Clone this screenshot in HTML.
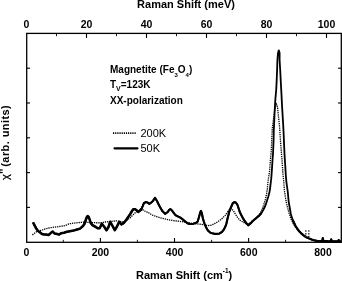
<!DOCTYPE html>
<html><head><meta charset="utf-8"><style>
html,body{margin:0;padding:0;background:#fff;}
svg{display:block;}
.b{font-family:"Liberation Sans",Arial,sans-serif;font-weight:bold;fill:#000;}
.r{font-family:"Liberation Sans",Arial,sans-serif;fill:#000;}
</style></head><body>
<svg width="342" height="281" viewBox="0 0 342 281">
<rect width="342" height="281" fill="#fff"/>
<!-- frame -->
<rect x="26.7" y="33.4" width="314.6" height="208.9" fill="none" stroke="#000" stroke-width="1.3"/>
<!-- top ticks (meV) -->
<g stroke="#000" stroke-width="1.1">
<line x1="56.5" y1="33.4" x2="56.5" y2="36.2" stroke-width="0.9"/><line x1="86.5" y1="33.4" x2="86.5" y2="38" stroke-width="1.1"/><line x1="116.5" y1="33.4" x2="116.5" y2="36.2" stroke-width="0.9"/><line x1="146.5" y1="33.4" x2="146.5" y2="38" stroke-width="1.1"/><line x1="176.5" y1="33.4" x2="176.5" y2="36.2" stroke-width="0.9"/><line x1="206.5" y1="33.4" x2="206.5" y2="38" stroke-width="1.1"/><line x1="236.5" y1="33.4" x2="236.5" y2="36.2" stroke-width="0.9"/><line x1="266.5" y1="33.4" x2="266.5" y2="38" stroke-width="1.1"/><line x1="296.5" y1="33.4" x2="296.5" y2="36.2" stroke-width="0.9"/><line x1="326.5" y1="33.4" x2="326.5" y2="38" stroke-width="1.1"/>
</g>
<!-- bottom ticks (cm-1) -->
<g stroke="#000" stroke-width="1.1">
<line x1="63.3" y1="242.3" x2="63.3" y2="239.8" stroke-width="0.9"/><line x1="100.4" y1="242.3" x2="100.4" y2="238" stroke-width="1.1"/><line x1="137.4" y1="242.3" x2="137.4" y2="239.8" stroke-width="0.9"/><line x1="174.5" y1="242.3" x2="174.5" y2="238" stroke-width="1.1"/><line x1="211.6" y1="242.3" x2="211.6" y2="239.8" stroke-width="0.9"/><line x1="248.6" y1="242.3" x2="248.6" y2="238" stroke-width="1.1"/><line x1="285.6" y1="242.3" x2="285.6" y2="239.8" stroke-width="0.9"/><line x1="322.7" y1="242.3" x2="322.7" y2="238" stroke-width="1.1"/>
</g>
<!-- left/right ticks -->
<g stroke="#000" stroke-width="1.1">
<line x1="26.7" y1="68.2" x2="30" y2="68.2"/><line x1="338" y1="68.2" x2="341.3" y2="68.2"/><line x1="26.7" y1="103.0" x2="30" y2="103.0"/><line x1="338" y1="103.0" x2="341.3" y2="103.0"/><line x1="26.7" y1="137.8" x2="30" y2="137.8"/><line x1="338" y1="137.8" x2="341.3" y2="137.8"/><line x1="26.7" y1="172.6" x2="30" y2="172.6"/><line x1="338" y1="172.6" x2="341.3" y2="172.6"/><line x1="26.7" y1="207.4" x2="30" y2="207.4"/><line x1="338" y1="207.4" x2="341.3" y2="207.4"/>
</g>
<!-- curves -->
<polyline points="32.4,234.9 36,232 40.2,230.6 44.5,229.2 48.8,228 54.5,227.1 60.2,226.4 65.1,225.6 69.1,223.8 76.2,222.8 83.4,222.2 90.5,222.5 97.6,222.8 101.9,222.7 105.1,222 112.2,221.3 116.4,220.8 120.7,221.6 123.9,221.9 127.6,219.7 129.8,218.1 132.4,215.5 135.1,212.8 137.8,211.5 140.5,210.6 142.7,209.7 144.5,211 146.7,211.9 149.4,213.2 152,215 157.1,216.8 162.4,218.4 167.8,219.6 173.1,220.6 178.5,221.2 184.2,222 189.9,223 195.6,223.8 201.3,224.3 205.6,224.9 207.4,225.6 211.4,225.2 216.2,222.8 221,219.6 225,215.6 229,210 231.2,208.6 233.5,210.8 235.6,214.5 237.5,217.4 240,220.3 242.5,221.8 246,223.6 248.5,224 252,221.5 256,218.5 260,213.5 262.2,209 263.7,205 265.2,200 266.4,195 267.2,190 268.2,180 269.5,172 270.4,160 271.3,150 272.2,130 272.7,125 273.8,117 274.8,110 275.6,106 276.3,104 277,105 277.6,108 278.5,117 279.4,125 279.9,132 280.4,140 281.2,150 282,160 282.5,167 283,175 283.8,182 284.3,190 285.2,196 286,201 287.4,207 289,213 291,219 293.5,224 296,228 299,231.5 302,234.5 305,237 308,238.5" fill="none" stroke="#000" stroke-width="1.3" stroke-dasharray="1.3 0.9"/>
<polyline points="33,222.4 35.1,226.3 36.4,228.8 38.1,231 39.8,232.2 42,234 44.1,234.4 46.2,234.6 48.5,235 50.7,233.1 52.8,231.6 54.5,233.5 57.1,234 59.2,234.6 61,233.3 64,232.7 66.9,231.8 69.9,231.2 73.4,230.6 78,229.2 80,228.6 81.4,227.4 83,226 84.4,224 85.3,221.5 86.1,219 87,216.7 87.8,216.1 88.7,217 89.5,219.1 90.8,223.2 92.5,225.1 95.1,226.6 97.7,228.3 99.7,228.2 101.8,223.8 104.2,226.8 106.5,230.3 108.5,227 110.1,221.8 112,225 114.8,230.2 117,226.5 119.2,221.8 121.4,224.4 123.8,222.9 126,220.3 128.1,217.1 130.3,213.9 132,211 133.3,209.2 135.1,209.2 136.9,210.6 138.2,211.9 140,210.6 141.3,209.2 142.7,206.1 144,203 145.8,202.1 147.6,202.6 149.4,203.9 151.1,202.6 152.7,201.3 155,197.8 157.1,201.3 159.8,206.7 162.4,211.1 165.1,213.8 167.8,212 169.2,209.8 170.4,209.1 171.6,210 172.9,211.8 175.6,215.3 178.3,216.6 180.4,217.6 183.1,219.7 185.7,221.9 187.9,223.5 190,224 192.7,224 195.3,223 196.5,222.6 197.7,221.5 199,217 200.2,212.5 200.9,210.9 201.8,213 202.8,218 203.8,221.5 204.6,223.8 206,227.2 207.9,230.5 210.5,232.8 214.9,233.9 219.3,233.6 221.9,232 223.4,230.2 224.6,228 225.5,226.2 226.3,224 227.5,218.8 229.2,212 230.8,207.7 232.8,203.2 234.4,202.1 236,202.7 237.5,205 238.8,209 240,212.6 242.5,217.4 244.3,220.5 246.2,223 248.3,225.3 250.5,223.5 252.5,221.2 256,218.3 259,215.8 261.5,213 263.5,209.5 265.2,206 266.3,203 267.2,200 268.2,197 269.5,192 270.5,185 271.3,178 271.9,170 272.5,160 273,154 273.6,140 273.8,130 274.3,120 274.6,112 275.3,100 276.2,90 276.7,80 277.1,70 277.4,60 278,53 278.8,50.3 279.6,53 279.6,60 280.2,70 280.7,80 281.5,95 282,105 282.6,115 283.2,125 283.7,135 284.1,145 284.5,154 285.2,165 285.8,175 286.4,182 287.8,192 288.7,202 289.8,208 290.8,214 292.7,220 295.5,226 298.6,230.6 301.3,233.4 303.9,235.6 306.5,237.2 309.2,238.5 311.8,239.6 314.4,240.3 317,240.8 320.6,241.1 322.3,241 322.8,238.2 323.4,241 326,241.1 329,241.3 330.8,241.2 331.2,239.4 331.7,241.3 335,241.4 338.3,241.4 338.7,240 339.1,241.4 341,241.5" fill="none" stroke="#000" stroke-width="1.8" stroke-linejoin="round"/>
<polyline points="33,222.4 35.1,226.3 36.4,228.8 38.1,231 39.8,232.2 42,234 44.1,234.4 46.2,234.6 48.5,235 50.7,233.1 52.8,231.6 54.5,233.5 57.1,234 59.2,234.6 61,233.3 64,232.7 66.9,231.8 69.9,231.2 73.4,230.6 78,229.2 80,228.6 81.4,227.4 83,226 84.4,224 85.3,221.5 86.1,219 87,216.7 87.8,216.1 88.7,217 89.5,219.1 90.8,223.2 92.5,225.1 95.1,226.6 97.7,228.3 99.7,228.2 101.8,223.8 104.2,226.8 106.5,230.3 108.5,227 110.1,221.8 112,225 114.8,230.2 117,226.5 119.2,221.8 121.4,224.4 123.8,222.9 126,220.3 128.1,217.1 130.3,213.9 132,211 133.3,209.2 135.1,209.2 136.9,210.6 138.2,211.9 140,210.6 141.3,209.2" fill="none" stroke="#000" stroke-width="2.5" stroke-linejoin="round"/>
<polyline points="140,210.6 141.3,209.2 142.7,206.1 144,203 145.8,202.1 147.6,202.6 149.4,203.9 151.1,202.6 152.7,201.3 155,197.8 157.1,201.3 159.8,206.7 162.4,211.1 165.1,213.8 167.8,212 169.2,209.8 170.4,209.1 171.6,210 172.9,211.8 175.6,215.3 178.3,216.6 180.4,217.6 183.1,219.7 185.7,221.9 187.9,223.5 190,224 192.7,224 195.3,223 196.5,222.6 197.7,221.5 199,217 200.2,212.5 200.9,210.9 201.8,213 202.8,218 203.8,221.5 204.6,223.8 206,227.2 207.9,230.5 210.5,232.8 214.9,233.9 219.3,233.6 221.9,232 223.4,230.2 224.6,228 225.5,226.2 226.3,224 227.5,218.8 229.2,212 230.8,207.7 232.8,203.2 234.4,202.1 236,202.7 237.5,205 238.8,209 240,212.6 242.5,217.4 244.3,220.5 246.2,223 248.3,225.3 250.5,223.5 252.5,221.2 256,218.3 259,215.8 261.5,213" fill="none" stroke="#000" stroke-width="2.1" stroke-linejoin="round"/>
<polyline points="292.7,220 295.5,226 298.6,230.6 301.3,233.4 303.9,235.6 306.5,237.2 309.2,238.5 311.8,239.6 314.4,240.3 317,240.8 320.6,241.1 322.3,241 322.8,238.2 323.4,241 326,241.1 329,241.3 330.8,241.2 331.2,239.4 331.7,241.3 335,241.4 338.3,241.4 338.7,240 339.1,241.4 341,241.5" fill="none" stroke="#000" stroke-width="2.2" stroke-linejoin="round"/>
<!-- artifact -->
<g fill="#222">
<rect x="305.1" y="230.3" width="1.4" height="1.4"/><rect x="308.1" y="230.3" width="1.4" height="1.4"/>
<rect x="305.1" y="233.1" width="1.4" height="1.4"/><rect x="308.1" y="233.1" width="1.4" height="1.4"/>
<rect x="305.1" y="235.8" width="1.4" height="1.4"/><rect x="308.1" y="235.8" width="1.4" height="1.4"/>
</g>
<!-- titles -->
<text class="b" x="186" y="8" font-size="11" text-anchor="middle">Raman Shift (meV)</text>
<g class="b" font-size="10.5" text-anchor="middle">
<text x="26.5" y="27.6">0</text><text x="86.5" y="27.6">20</text><text x="146.5" y="27.6">40</text>
<text x="206.5" y="27.6">60</text><text x="266.5" y="27.6">80</text><text x="326.5" y="27.6">100</text>
<text x="26.5" y="255.5">0</text><text x="100.4" y="255.5">200</text><text x="174.6" y="255.5">400</text>
<text x="248.8" y="255.5">600</text><text x="323" y="255.5">800</text>
</g>
<text class="b" x="136" y="278.7" font-size="11">Raman Shift (cm<tspan font-size="6.5" dy="-5.6">-1</tspan><tspan dy="5.6">)</tspan></text>
<g transform="translate(9.3,180) rotate(-90)">
<text class="r" x="0" y="0" font-size="11" stroke="#000" stroke-width="0.25">χ</text>
<text class="b" x="6.3" y="-1.6" font-size="10.5">''</text>
<text class="b" x="13.3" y="0" font-size="11" textLength="61.5" lengthAdjust="spacing">(arb. units)</text>
</g>
<g class="b" font-size="10">
<text x="110" y="73">Magnetite (Fe<tspan font-size="6" dy="3.5">3</tspan><tspan dy="-3.5">O</tspan><tspan font-size="6" dy="3.6">4</tspan><tspan dy="-3.6">)</tspan></text>
<text x="110" y="87.6">T<tspan font-size="7" dy="3.6">V</tspan><tspan dy="-3.6">=123K</tspan></text>
<text x="110" y="103.8">XX-polarization</text>
</g>
<line x1="113" y1="133.1" x2="136.5" y2="133.1" stroke="#000" stroke-width="1.8" stroke-dasharray="1.2 0.95"/>
<line x1="114.5" y1="148.3" x2="137.5" y2="148.3" stroke="#000" stroke-width="2.2" stroke-linecap="round"/>
<g class="r" font-size="11">
<text x="140.5" y="136.9">200K</text>
<text x="140.5" y="151.8">50K</text>
</g>
</svg>
</body></html>
